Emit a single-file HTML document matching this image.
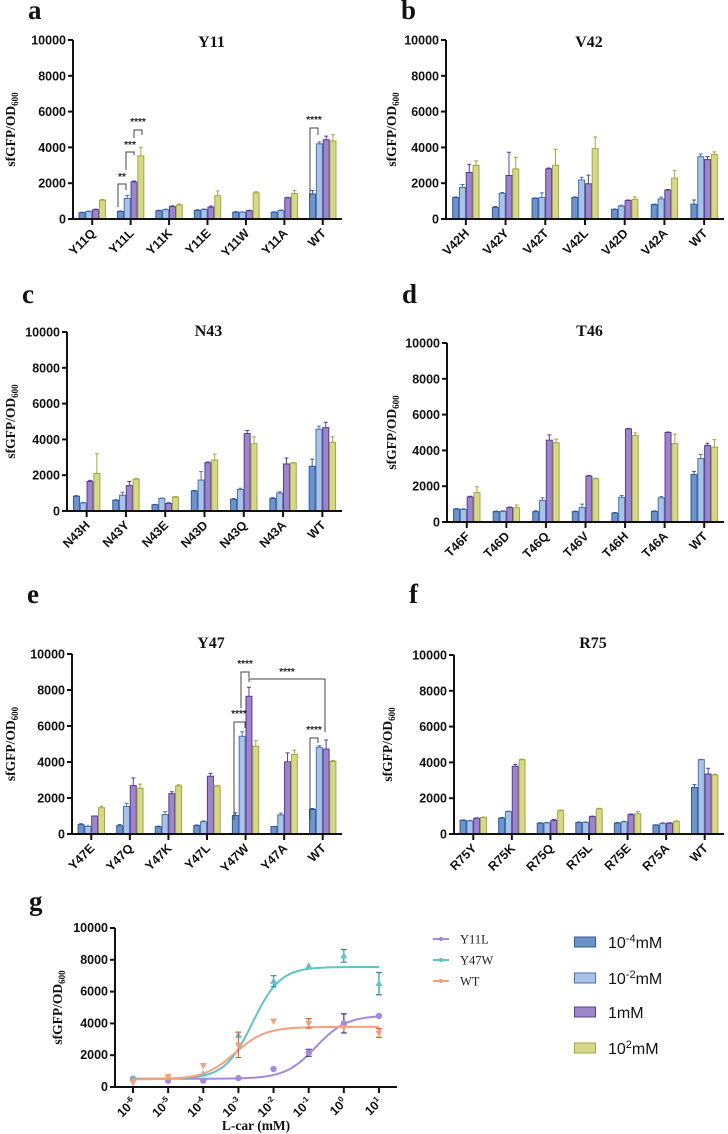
<!DOCTYPE html>
<html><head><meta charset="utf-8"><style>
html,body{margin:0;padding:0;background:#fff;}
svg{display:block;}
.tk{font-family:"Liberation Sans",sans-serif;font-weight:bold;font-size:12.5px;fill:#111;}
.ser{font-family:"Liberation Serif",serif;font-weight:bold;fill:#111;}
</style></head><body>
<svg id="fig" width="728" height="1134" viewBox="0 0 728 1134" xmlns="http://www.w3.org/2000/svg"></svg>
<script>
// ---- Panel a (Y11)
const catsA=["Y11Q","Y11L","Y11K","Y11E","Y11W","Y11A","WT"];
const aS1=[350,420,460,480,380,380,1400];
const aS2=[420,1150,520,530,380,470,4200];
const aS3=[520,2070,690,660,460,1180,4430];
const aS4=[1050,3530,780,1300,1460,1420,4360];
const aE1=[30,30,30,40,30,20,200],aE2=[30,170,30,30,20,30,100],aE3=[30,50,40,60,30,30,200],aE4=[40,480,60,270,60,180,350];
// ---- Panel b (V42)
const catsB=["V42H","V42Y","V42T","V42L","V42D","V42A","WT"];
const bS1=[1200,640,1150,1200,530,800,830];
const bS2=[1760,1430,1200,2180,720,1120,3480];
const bS3=[2600,2430,2800,1970,1030,1620,3320];
const bS4=[3000,2800,3000,3930,1100,2280,3600];
const bE1=[30,60,30,30,30,30,230],bE2=[170,50,260,150,50,100,150],bE3=[450,1300,50,480,30,30,170],bE4=[250,650,900,650,130,420,150];
// ---- Panel c (N43)
const catsC=["N43H","N43Y","N43E","N43D","N43Q","N43A","WT"];
const cS1=[820,600,350,1120,650,700,2500];
const cS2=[450,880,700,1730,1200,1000,4570];
const cS3=[1650,1420,420,2700,4330,2630,4660];
const cS4=[2100,1780,780,2850,3760,2680,3840];
const cE1=[40,30,20,30,40,40,400],cE2=[30,170,20,470,70,70,170],cE3=[60,230,40,40,170,330,300],cE4=[1100,40,30,330,380,30,300];
// ---- Panel d (T46)
const catsD=["T46F","T46D","T46Q","T46V","T46H","T46A","WT"];
const dS1=[720,580,580,580,500,590,2650];
const dS2=[700,590,1200,800,1380,1350,3550];
const dS3=[1400,800,4570,2570,5200,5000,4270];
const dS4=[1640,800,4430,2420,4830,4380,4180];
const dE1=[30,30,50,30,30,30,180],dE2=[40,40,150,200,100,70,230],dE3=[40,40,300,30,30,30,130],dE4=[330,150,200,30,150,530,420];
// ---- Panel e (Y47)
const catsE=["Y47E","Y47Q","Y47K","Y47L","Y47W","Y47A","WT"];
const eS1=[520,460,400,470,1030,420,1360];
const eS2=[420,1530,1080,680,5430,1060,4820];
const eS3=[1000,2690,2240,3210,7650,4010,4720];
const eS4=[1460,2550,2670,2660,4880,4420,4030];
const eE1=[50,60,40,30,150,0,60],eE2=[30,180,160,50,250,100,80],eE3=[0,430,110,160,500,500,500],eE4=[90,220,60,40,300,230,60];
// ---- Panel f (R75)
const catsF=["R75Y","R75K","R75Q","R75L","R75E","R75A","WT"];
const fS1=[760,890,600,640,610,500,2600];
const fS2=[730,1250,620,650,680,580,4150];
const fS3=[870,3780,760,970,1080,600,3350];
const fS4=[920,4150,1300,1400,1130,700,3300];
const fE1=[30,30,30,30,30,20,160],fE2=[30,30,30,30,30,50,20],fE3=[30,100,60,30,40,30,320],fE4=[30,30,40,40,120,30,40];
const yTicks=[0,2000,4000,6000,8000,10000];
const seriesNames=["10-4mM","10-2mM","1mM","102mM"];
// ---- Panel g (dose response)
const gLogX=[-6,-5,-4,-3,-2,-1,0,1];
const gXTickExp=["-6","-5","-4","-3","-2","-1","0","1"];
const gY11L=[520,400,400,560,1130,2150,4000,4470];
const gY11LErr=[0,0,0,0,0,220,600,0];
const gY47W=[520,620,820,3250,6650,7600,8250,6500];
const gY47WErr=[0,0,0,0,350,0,400,700];
const gWT=[300,650,1350,2650,4150,4000,3750,3400];
const gWTErr=[0,0,0,800,0,300,0,280];
// 4PL fit params [bottom, top, logEC50, hill]
const fitY11L=[520,4500,-0.8,1.0];
const fitY47W=[520,7550,-2.6,1.1];
const fitWT=[480,3780,-3.1,1.0];

const NS="http://www.w3.org/2000/svg";
const svg=document.getElementById('fig');
function mk(tag,attrs,parent){const e=document.createElementNS(NS,tag);for(const k in attrs)e.setAttribute(k,attrs[k]);(parent||svg).appendChild(e);return e;}
const FILL=['#6e93c9','#a8c3e6','#9c85c9','#d5d88a'];
const STROKE=['#2f5aa0','#4d72b0','#5a3c98','#a4a838'];

function yTitle(g,x,y){
  const t=mk('text',{x:x,y:y,transform:`rotate(-90 ${x} ${y})`,'text-anchor':'middle','class':'ser','font-size':'13.5'},g);
  
  
  t.appendChild(document.createTextNode('sfGFP/OD'));
  const s=mk('tspan',{'font-size':'9',dy:'3'},t);s.textContent='600';
}

function barPanel(id,title,cats,series,errs,ax,top,zero,right,titleY,yTitleX,label,labelY){
  const g=mk('g',{});
  
  
  const lab=mk('text',{x:ax-45,y:labelY,'class':'ser','font-size':'27'},g);
  
  
  lab.textContent=label;
  const yS=v=>zero-(v/10000)*(zero-top);
  const band=(right-ax)/7;
  const tt=mk('text',{x:(ax+right)/2+4,y:titleY,'text-anchor':'middle','class':'ser','font-size':'16'},g);
  
  
  tt.textContent=title;
  yTitle(g,yTitleX,(top+zero)/2);
  // bars
  const bw=6,gap=0.8;
  for(let s=0;s<4;s++){
    for(let i=0;i<cats.length;i++){
      const cx=ax+(i+0.5)*band;
      const x=cx-(4*bw+3*gap)/2+s*(bw+gap);
      const v=series[s][i];
      const r=mk('rect',{x:x,y:yS(v),width:bw,height:zero-yS(v),fill:FILL[s],stroke:STROKE[s],'stroke-width':'1'},g);
      
      
      const e=errs[s][i];
      if(e>0){
        const ex=x+bw/2,y1=yS(v),y2=yS(v+e);
        const eb=mk('path',{d:`M${ex},${y1}V${y2}M${ex-2},${y2}H${ex+2}`,stroke:STROKE[s],'stroke-width':'1',fill:'none'},g);
        
        
      }
    }
  }
  // axes
  const axg=mk('path',{d:`M${ax},${top}V${zero}H${right}`,stroke:'#111','stroke-width':'2',fill:'none'},g);
  
  
  yTicks.forEach(t=>{
    const yy=yS(t);
    const tl=mk('line',{x1:ax-5,x2:ax,y1:yy,y2:yy,stroke:'#111','stroke-width':'2'},g);
    
    
    const tx=mk('text',{x:ax-7,y:yy+4.5,'text-anchor':'end','class':'tk'},g);
    
    
    tx.textContent=t;
  });
  cats.forEach((c,i)=>{
    const cx=ax+(i+0.5)*band;
    const tl=mk('line',{x1:cx,x2:cx,y1:zero,y2:zero+6,stroke:'#111','stroke-width':'2'},g);
    
    
    const tx=mk('text',{x:cx+4,y:zero+15,'text-anchor':'end','class':'tk',transform:`rotate(-45 ${cx+4} ${zero+15})`},g);
    
    
    tx.textContent=c;
  });
  return g;
}
function sig(g,d,tx,ty){
  const p=mk('path',{d:d,stroke:'#444','stroke-width':'1',fill:'none'},g);
  
  
  const t=mk('text',{x:tx,y:ty,'text-anchor':'middle','font-family':'Liberation Sans, sans-serif','font-size':'10','font-weight':'bold',fill:'#222'},g);
  
  
  t.textContent=d.stars;
}
function star(g,pathD,stars,tx,ty){const o={toString(){return pathD}};const p=mk('path',{d:pathD,stroke:'#444','stroke-width':'1',fill:'none'},g);
  
  
  const t=mk('text',{x:tx,y:ty,'text-anchor':'middle','font-family':'Liberation Sans, sans-serif','font-size':'10','font-weight':'bold',fill:'#222'},g);
  
  
  t.textContent=stars;}

const pa=barPanel('a','Y11',catsA,[aS1,aS2,aS3,aS4],[aE1,aE2,aE3,aE4],73,40,219,342,47,15,'a',19);
star(pa,'M118,207V184H126V190','**',122,180);
star(pa,'M126,170V152H134V155','***',130,148);
star(pa,'M134,138V130H142V135','****',138,125);
star(pa,'M310,197V128H318V135','****',314,123);
barPanel('b','V42',catsB,[bS1,bS2,bS3,bS4],[bE1,bE2,bE3,bE4],446,40,219,724,47,396,'b',19);
barPanel('c','N43',catsC,[cS1,cS2,cS3,cS4],[cE1,cE2,cE3,cE4],67,332,511,342,336,15,'c',303);
barPanel('d','T46',catsD,[dS1,dS2,dS3,dS4],[dE1,dE2,dE3,dE4],447,343,522,724,336,396,'d',303);
const pe=barPanel('e','Y47',catsE,[eS1,eS2,eS3,eS4],[eE1,eE2,eE3,eE4],72,654,834,342,648,15,'e',603);
star(pe,'M234,820V722H245V728','****',239,717);
star(pe,'M241,708V672H249V678','****',245,667);
star(pe,'M249,682V679H325V732','****',287,675);
star(pe,'M310,820V738H318V743','****',314,733);
barPanel('f','R75',catsF,[fS1,fS2,fS3,fS4],[fE1,fE2,fE3,fE4],454,655,834,724,648,392,'f',603);

// ---- Panel g
(function(){
  const g=mk('g',{});
  
  
  const ax=115,top=928,zero=1087,right=397;
  const xS=l=>133+(l+6)*35.14;
  const yS=v=>zero-(v/10000)*(zero-top);
  const lab=mk('text',{x:29,y:910,'class':'ser','font-size':'27'},g);
  
  
  lab.textContent='g';
  yTitle(g,62,(top+zero)/2);
  const COL={Y11L:'#a48ad8',Y47W:'#5ec3c8',WT:'#f4a07c'};
  const ECOL={Y11L:'#4a3585',Y47W:'#2f8f95',WT:'#e0603a'};
  const sets=[['Y11L',gY11L,gY11LErr,fitY11L,'circle'],['Y47W',gY47W,gY47WErr,fitY47W,'tri'],['WT',gWT,gWTErr,fitWT,'tridown']];
  sets.forEach(([nm,vals,errs,fit,shape])=>{
    let d='';
    for(let l=-6;l<=1.0001;l+=0.05){
      const v=fit[0]+(fit[1]-fit[0])/(1+Math.pow(10,(fit[2]-l)*fit[3]));
      d+=(d?'L':'M')+xS(l).toFixed(1)+','+yS(v).toFixed(1);
    }
    const c=mk('path',{d:d,stroke:COL[nm],'stroke-width':'2',fill:'none'},g);
    
    
    gLogX.forEach((l,i)=>{
      const x=xS(l),y=yS(vals[i]);
      if(errs[i]>0){
        const y1=yS(vals[i]-errs[i]),y2=yS(vals[i]+errs[i]);
        const eb=mk('path',{d:`M${x},${y1}V${y2}M${x-3},${y1}H${x+3}M${x-3},${y2}H${x+3}`,stroke:ECOL[nm],'stroke-width':'1.2',fill:'none'},g);
        
        
      }
      let m;
      if(shape==='circle') m=mk('circle',{cx:x,cy:y,r:3.2,fill:COL[nm]},g);
      else if(shape==='tri') m=mk('path',{d:`M${x},${y-4}L${x+3.5},${y+2.5}L${x-3.5},${y+2.5}Z`,fill:COL[nm]},g);
      else m=mk('path',{d:`M${x},${y+4}L${x+3.5},${y-2.5}L${x-3.5},${y-2.5}Z`,fill:COL[nm]},g);
      
      
    });
  });
  const axg=mk('path',{d:`M${ax},${top}V${zero}H${right}`,stroke:'#111','stroke-width':'2',fill:'none'},g);
  
  
  yTicks.forEach(t=>{
    const yy=yS(t);
    const tl=mk('line',{x1:ax-5,x2:ax,y1:yy,y2:yy,stroke:'#111','stroke-width':'2'},g);
    
    
    const tx=mk('text',{x:ax-7,y:yy+4,'text-anchor':'end','class':'tk','font-size':'11.5'},g);
    
    
    tx.textContent=t;
  });
  gLogX.forEach((l,i)=>{
    const x=xS(l);
    const tl=mk('line',{x1:x,x2:x,y1:zero,y2:zero+6,stroke:'#111','stroke-width':'2'},g);
    
    
    const tx=mk('text',{x:x+4,y:zero+16,'text-anchor':'end','class':'tk','font-size':'11',transform:`rotate(-45 ${x+4} ${zero+16})`},g);
    
    
    tx.appendChild(document.createTextNode('10'));
    const sp=mk('tspan',{dy:'-5','font-size':'8'},tx);sp.textContent=gXTickExp[i];
  });
  const xt=mk('text',{x:256,y:1130,'text-anchor':'middle','class':'ser','font-size':'13.5'},g);
  
  
  xt.textContent='L-car (mM)';
  // line legend
  const names=['Y11L','Y47W','WT'];
  names.forEach((n,i)=>{
    const y=939+i*21;
    const lg=mk('g',{},g);
    
    
    mk('line',{x1:433,x2:449,y1:y,y2:y,stroke:COL[n],'stroke-width':'2'},lg);
    mk('circle',{cx:441,cy:y,r:2.2,fill:COL[n]},lg);
    const t=mk('text',{x:460,y:y+4.5,'font-family':'Liberation Serif, serif','font-size':'12.5',fill:'#222'},lg);
    t.textContent=n;
  });
  // bar legend
  const lys=[942,978,1012,1048];
  const labs=[['10','-4','mM'],['10','-2','mM'],['1mM','',''],['10','2','mM']];
  lys.forEach((y,i)=>{
    const lg=mk('g',{},g);
    
    
    mk('rect',{x:574.5,y:y-5,width:21,height:10,fill:FILL[i],stroke:STROKE[i],'stroke-width':'1'},lg);
    const t=mk('text',{x:608,y:y+6,'font-family':'Liberation Sans, sans-serif','font-size':'16',fill:'#111'},lg);
    t.appendChild(document.createTextNode(labs[i][0]));
    if(labs[i][1]){const s=mk('tspan',{dy:'-6','font-size':'11'},t);s.textContent=labs[i][1];
      const s2=mk('tspan',{dy:'6','font-size':'16'},t);s2.textContent=labs[i][2];}
  });
})();
</script>
</body></html>
